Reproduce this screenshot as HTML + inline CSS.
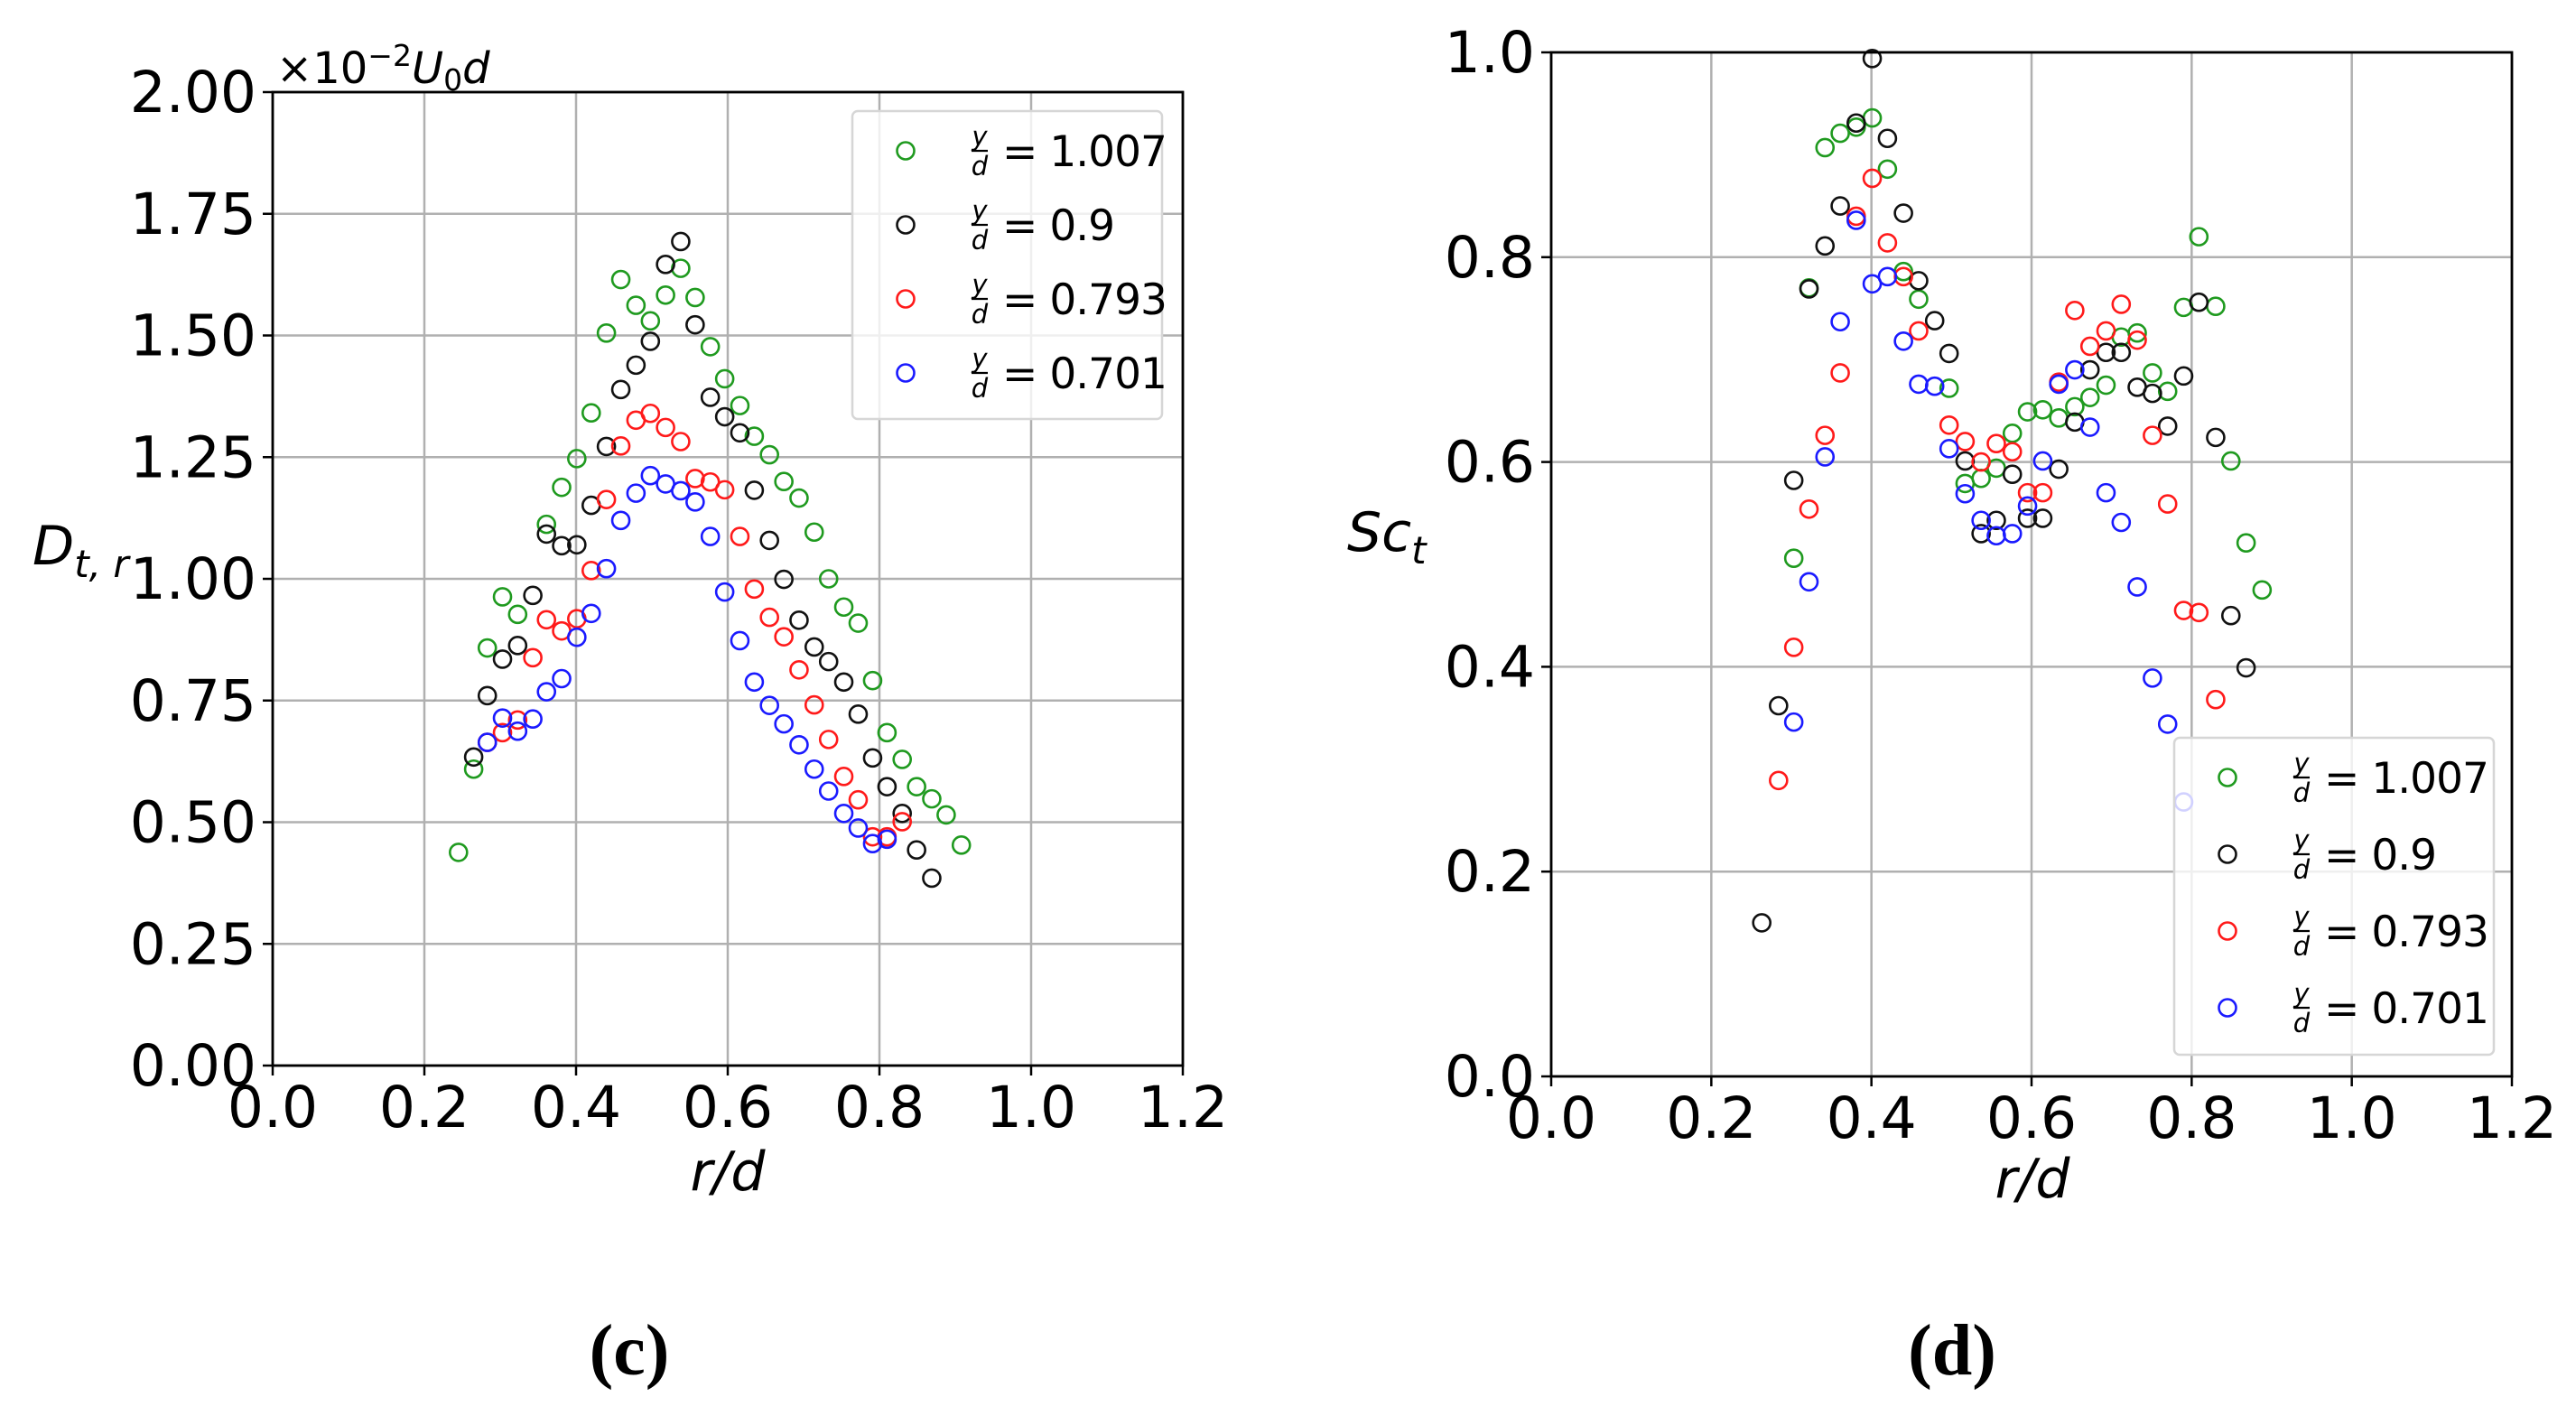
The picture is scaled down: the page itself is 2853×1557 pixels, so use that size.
<!DOCTYPE html>
<html><head><meta charset="utf-8"><style>
html,body{margin:0;padding:0;background:#fff;}
svg{display:block;font-family:"DejaVu Sans","Liberation Sans",sans-serif;}
</style></head><body>
<svg id="fig" width="2853" height="1557" viewBox="0 0 2853 1557" xmlns="http://www.w3.org/2000/svg">
<rect width="2853" height="1557" fill="#fff"/>
<g id="pc"></g>
<g id="pd"></g>
<text x="697" y="1522" font-family="Liberation Serif, serif" font-weight="bold" font-size="80" text-anchor="middle">(c)</text>
<text x="2162" y="1522" font-family="Liberation Serif, serif" font-weight="bold" font-size="80" text-anchor="middle">(d)</text>
</svg>
<script>
// Panel (c) data
const cGreenX=[.245,.265,.283,.303,.323,.361,.381,.401,.420,.440,.459,.479,.498,.518,.538,.557,.577,.596,.616,.635,.655,.674,.694,.714,.733,.753,.772,.791,.810,.830,.849,.869,.888,.908];
const cGreenY=[.438,.609,.858,.963,.927,1.112,1.188,1.247,1.341,1.505,1.615,1.562,1.530,1.583,1.638,1.578,1.477,1.411,1.356,1.293,1.255,1.200,1.166,1.096,1.000,.942,.909,.791,.684,.629,.573,.548,.515,.453];
const cBlackX=[.265,.283,.303,.323,.343,.361,.381,.401,.420,.440,.459,.479,.498,.518,.538,.557,.577,.596,.616,.635,.655,.674,.694,.714,.733,.753,.772,.791,.810,.830,.849,.869];
const cBlackY=[.634,.760,.835,.863,.966,1.092,1.068,1.070,1.151,1.272,1.389,1.439,1.488,1.646,1.693,1.522,1.373,1.333,1.300,1.182,1.079,.999,.915,.860,.830,.788,.722,.632,.573,.518,.443,.385];
const cRedX=[.283,.303,.323,.343,.361,.381,.401,.420,.440,.459,.479,.498,.518,.538,.557,.577,.596,.616,.635,.655,.674,.694,.714,.733,.753,.772,.791,.810,.830];
const cRedY=[.664,.684,.710,.838,.916,.893,.918,1.017,1.163,1.273,1.326,1.340,1.311,1.282,1.206,1.199,1.183,1.087,.979,.921,.881,.813,.741,.670,.594,.546,.470,.470,.501];
const cBlueX=[.283,.303,.323,.343,.361,.381,.401,.420,.440,.459,.479,.498,.518,.538,.557,.577,.596,.616,.635,.655,.674,.694,.714,.733,.753,.772,.791,.810];
const cBlueY=[.664,.714,.687,.712,.768,.795,.880,.929,1.021,1.120,1.176,1.212,1.195,1.181,1.158,1.087,.973,.873,.788,.740,.702,.659,.609,.564,.518,.488,.456,.465];
const cXTicks=["0.0","0.2","0.4","0.6","0.8","1.0","1.2"];
const cYTicks=["0.00","0.25","0.50","0.75","1.00","1.25","1.50","1.75","2.00"];
// Panel (d) data
const dGreenX=[.303,.322,.342,.361,.381,.401,.420,.440,.459,.497,.517,.537,.556,.576,.595,.614,.634,.654,.673,.693,.712,.732,.751,.770,.790,.809,.830,.849,.868,.888];
const dGreenY=[.506,.770,.907,.921,.927,.936,.886,.786,.759,.672,.579,.584,.594,.628,.649,.651,.643,.654,.663,.675,.722,.726,.687,.669,.751,.820,.752,.601,.521,.475];
const dBlackX=[.263,.284,.303,.322,.342,.361,.381,.401,.420,.440,.459,.479,.497,.517,.537,.556,.576,.595,.614,.634,.654,.673,.693,.712,.732,.751,.770,.790,.809,.830,.849,.868];
const dBlackY=[.150,.362,.582,.769,.811,.850,.931,.994,.916,.843,.777,.738,.706,.601,.530,.543,.588,.545,.545,.593,.639,.690,.707,.707,.673,.667,.635,.684,.756,.624,.450,.399];
const dRedX=[.284,.303,.322,.342,.361,.381,.401,.420,.440,.459,.497,.517,.537,.556,.576,.595,.614,.634,.654,.673,.693,.712,.732,.751,.770,.790,.809,.830];
const dRedY=[.289,.419,.554,.626,.687,.840,.877,.814,.781,.728,.636,.620,.600,.618,.610,.570,.570,.678,.748,.713,.728,.754,.719,.626,.559,.455,.453,.368];
const dBlueX=[.303,.322,.342,.361,.381,.401,.420,.440,.459,.479,.497,.517,.537,.556,.576,.595,.614,.634,.654,.673,.693,.712,.732,.751,.770,.790];
const dBlueY=[.346,.483,.605,.737,.836,.774,.781,.718,.676,.674,.613,.569,.543,.528,.530,.557,.601,.676,.690,.634,.570,.541,.478,.389,.344,.268];
const dXTicks=["0.0","0.2","0.4","0.6","0.8","1.0","1.2"];
const dYTicks=["0.0","0.2","0.4","0.6","0.8","1.0"];
const legendLabels=["1.007","0.9","0.793","0.701"];

const NS="http://www.w3.org/2000/svg";
function mk(parent,tag,attrs,text){const e=document.createElementNS(NS,tag);for(const k in attrs)e.setAttribute(k,attrs[k]);if(text!==undefined)e.textContent=text;parent.appendChild(e);return e;}

function panel(g,cfg){
  const {L,R,T,B,ymax,xt,yt,series,leg,prefix}=cfg;
  const sx=v=>L+(v/1.2)*(R-L);
  const sy=v=>B-(v/ymax)*(B-T);
  xt.forEach((t,i)=>{const v=parseFloat(t);const x=sx(v);
    const ln=mk(g,'line',{x1:x,x2:x,y1:T,y2:B,stroke:'#b0b0b0','stroke-width':2.5});
    
    
    const tk=mk(g,'line',{x1:x,x2:x,y1:B,y2:B+11,stroke:'#000','stroke-width':2.5});
    
    
    const tx=mk(g,'text',{x:x,y:B+68,'font-size':63,'text-anchor':'middle',fill:'#000'},t);
    
    
  });
  yt.forEach((t,i)=>{const v=parseFloat(t);const y=sy(v);
    const ln=mk(g,'line',{x1:L,x2:R,y1:y,y2:y,stroke:'#b0b0b0','stroke-width':2.5});
    
    
    const tk=mk(g,'line',{x1:L-11,x2:L,y1:y,y2:y,stroke:'#000','stroke-width':2.5});
    
    
    const tx=mk(g,'text',{x:L-18,y:y+22,'font-size':63,'text-anchor':'end',fill:'#000'},t);
    
    
  });
  series.forEach(s=>{
    s.x.forEach((xv,i)=>{
      const c=mk(g,'circle',{cx:sx(xv),cy:sy(s.y[i]),r:9.5,fill:'none',stroke:s.color,'stroke-width':2.6});
      
      
    });
  });
  const sp=mk(g,'rect',{x:L,y:T,width:R-L,height:B-T,fill:'none',stroke:'#000','stroke-width':2.8});
  
  
  const lg=mk(g,'g',{});
  
  
  mk(lg,'rect',{x:leg.x,y:leg.y,width:leg.w,height:leg.h,rx:6,fill:'#fff','fill-opacity':0.8,stroke:'#d6d6d6','stroke-width':2.5});
  series.forEach((s,i)=>{
    const yy=leg.y+44+i*leg.dy;
    const e=mk(lg,'g',{});
    
    
    mk(e,'circle',{cx:leg.x+59,cy:yy,r:9.5,fill:'none',stroke:s.color,'stroke-width':2.6});
    mk(e,'text',{x:leg.x+141,y:yy-6,'font-size':29,'font-style':'italic','text-anchor':'middle'},'y');
    mk(e,'line',{x1:leg.x+132,x2:leg.x+150,y1:yy,y2:yy,stroke:'#000','stroke-width':2.2});
    mk(e,'text',{x:leg.x+141,y:yy+27,'font-size':29,'font-style':'italic','text-anchor':'middle'},'d');
    mk(e,'text',{x:leg.x+166,y:yy+17,'font-size':47,'letter-spacing':'-1'},'= '+legendLabels[i]);
  });
}

const cols={green:'#1f9a1f',black:'#111',red:'#ff1a1a',blue:'#1a1aff'};
panel(document.getElementById('pc'),{L:302,R:1310,T:102,B:1180,ymax:2.0,xt:cXTicks,yt:cYTicks,prefix:'c',
  series:[{name:'y1007',color:cols.green,x:cGreenX,y:cGreenY},{name:'y09',color:cols.black,x:cBlackX,y:cBlackY},{name:'y0793',color:cols.red,x:cRedX,y:cRedY},{name:'y0701',color:cols.blue,x:cBlueX,y:cBlueY}],
  leg:{x:944,y:123,w:343,h:341,dy:82}});
panel(document.getElementById('pd'),{L:1718,R:2782,T:58,B:1192,ymax:1.0,xt:dXTicks,yt:dYTicks,prefix:'d',
  series:[{name:'y1007',color:cols.green,x:dGreenX,y:dGreenY},{name:'y09',color:cols.black,x:dBlackX,y:dBlackY},{name:'y0793',color:cols.red,x:dRedX,y:dRedY},{name:'y0701',color:cols.blue,x:dBlueX,y:dBlueY}],
  leg:{x:2408,y:817,w:354,h:351,dy:85}});

const svg=document.getElementById('fig');
let t;
t=mk(svg,'text',{x:806,y:1318,'font-size':60,'font-style':'italic','text-anchor':'middle'},'r/d');


t=mk(svg,'text',{x:2251,y:1326,'font-size':60,'font-style':'italic','text-anchor':'middle'},'r/d');


t=mk(svg,'text',{x:36,y:625,'font-size':60,'font-style':'italic'});


t.innerHTML='D<tspan font-size="42" dy="14">t, r</tspan>';
t=mk(svg,'text',{x:1492,y:610,'font-size':60,'font-style':'italic'});


t.innerHTML='Sc<tspan font-size="42" dy="14">t</tspan>';
t=mk(svg,'text',{x:306,y:92,'font-size':48});


t.innerHTML='×10<tspan font-size="33" dy="-19">−2</tspan><tspan dy="19" font-style="italic">U</tspan><tspan font-size="33" dy="8">0</tspan><tspan dy="-8" font-style="italic">d</tspan>';
</script>
</body></html>
